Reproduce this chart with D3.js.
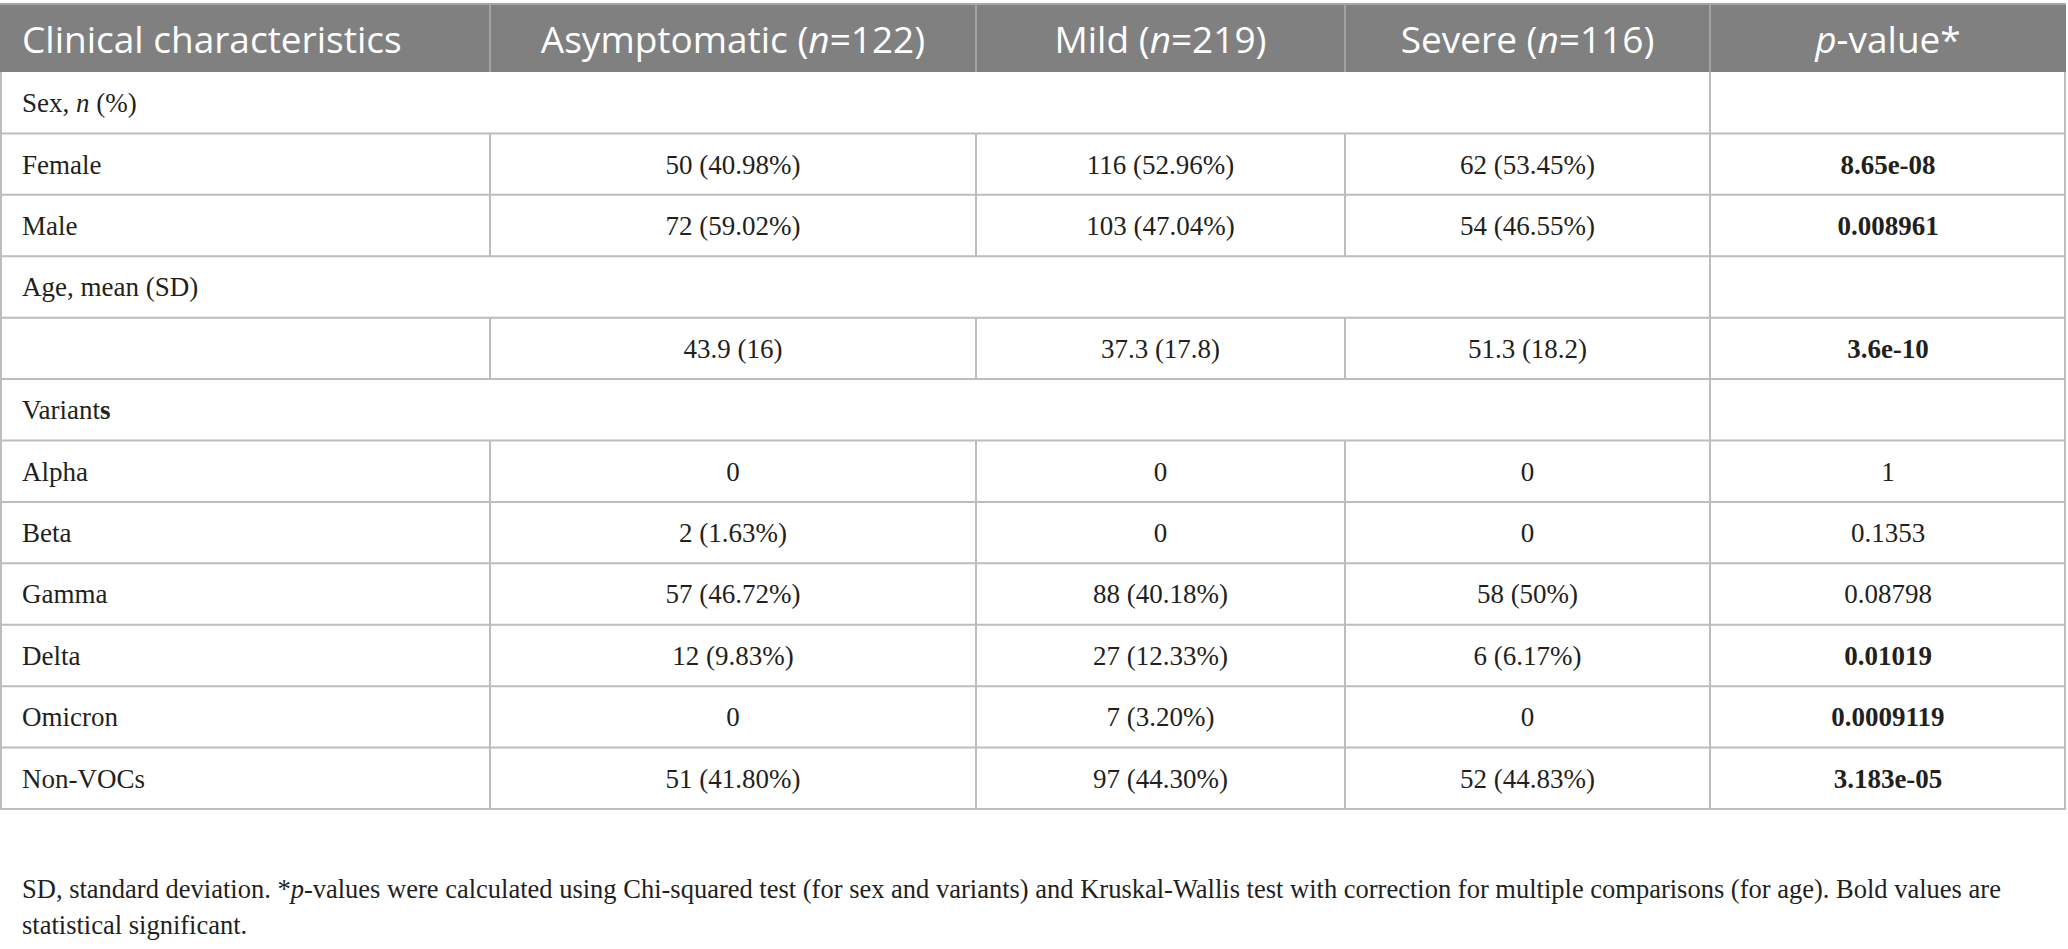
<!DOCTYPE html>
<html>
<head>
<meta charset="utf-8">
<script src="https://cdn.jsdelivr.net/npm/d3@7"></script>
<style>
  body { margin: 0; background: #fff; }
  svg { display: block; }
</style>
</head>
<body>
<div id="table"></div>
<script>
// Table content
const groups = ["Asymptomatic", "Mild", "Severe"];
const groupN = [122, 219, 116];
const rowLabels = ["Sex", "Female", "Male", "Age, mean (SD)", "", "Variants",
  "Alpha", "Beta", "Gamma", "Delta", "Omicron", "Non-VOCs"];
const sectionRows = [true, false, false, true, false, true,
  false, false, false, false, false, false];
const asymptomatic = [null, "50 (40.98%)", "72 (59.02%)", null, "43.9 (16)", null,
  "0", "2 (1.63%)", "57 (46.72%)", "12 (9.83%)", "0", "51 (41.80%)"];
const mild = [null, "116 (52.96%)", "103 (47.04%)", null, "37.3 (17.8)", null,
  "0", "0", "88 (40.18%)", "27 (12.33%)", "7 (3.20%)", "97 (44.30%)"];
const severe = [null, "62 (53.45%)", "54 (46.55%)", null, "51.3 (18.2)", null,
  "0", "0", "58 (50%)", "6 (6.17%)", "0", "52 (44.83%)"];
const pValues = [null, "8.65e-08", "0.008961", null, "3.6e-10", null,
  "1", "0.1353", "0.08798", "0.01019", "0.0009119", "3.183e-05"];
const significant = [false, true, true, false, true, false,
  false, false, false, true, true, true];

// Layout
const width = 2068, height = 949;
const colEdges = [0, 490, 976, 1345, 1710, 2066];
const headTop = 4, headBottom = 72, tableBottom = 809;
const lineColor = "#bdbdbd";
const serif = "'Liberation Serif', 'DejaVu Serif', serif";
const sans = "'Open Sans', 'Noto Sans', sans-serif";

const svg = d3.select("#table")
  .append("svg")
  .attr("width", width)
  .attr("height", height);

// Row positions via band scale
const y = d3.scaleBand()
  .domain(d3.range(rowLabels.length))
  .range([headBottom, tableBottom]);

const colCenter = i => (colEdges[i] + colEdges[i + 1]) / 2;

// Header background
svg.append("rect")
  .attr("x", colEdges[0])
  .attr("y", headTop)
  .attr("width", colEdges[5] - colEdges[0])
  .attr("height", headBottom - headTop)
  .attr("fill", "#808080");

svg.append("line")
  .attr("x1", colEdges[0]).attr("x2", colEdges[5])
  .attr("y1", headTop).attr("y2", headTop)
  .attr("stroke", "#a6a6a6").attr("stroke-width", 2);

// Header separators
colEdges.slice(1, 5).forEach(x => {
  svg.append("line")
    .attr("x1", x).attr("x2", x)
    .attr("y1", headTop).attr("y2", headBottom)
    .attr("stroke", "#a3a3a3").attr("stroke-width", 2);
});

// Header text
const headY = (headTop + headBottom) / 2 + 2;
const head = svg.append("g")
  .style("font-family", sans)
  .style("font-size", "37px")
  .attr("fill", "#fff");

head.append("text")
  .attr("x", 22)
  .attr("y", headY)
  .attr("dy", "0.36em")
  .text("Clinical characteristics");

groups.forEach((g, i) => {
  const t = head.append("text")
    .attr("x", colCenter(i + 1))
    .attr("y", headY)
    .attr("dy", "0.36em")
    .attr("text-anchor", "middle");
  t.append("tspan").text(g + " (");
  t.append("tspan").style("font-style", "italic").text("n");
  t.append("tspan").text("=" + groupN[i] + ")");
});

const pHead = head.append("text")
  .attr("x", colCenter(4))
  .attr("y", headY)
  .attr("dy", "0.36em")
  .attr("text-anchor", "middle");
pHead.append("tspan").style("font-style", "italic").text("p");
pHead.append("tspan").text("-value*");

// Body grid lines
rowLabels.forEach((label, i) => {
  const y1 = y(i), y2 = y(i) + y.bandwidth();
  svg.append("line")
    .attr("x1", colEdges[0]).attr("x2", colEdges[5])
    .attr("y1", y2).attr("y2", y2)
    .attr("stroke", lineColor).attr("stroke-width", 2);
  const edges = sectionRows[i] ? [colEdges[4]] : colEdges.slice(1, 5);
  edges.forEach(x => {
    svg.append("line")
      .attr("x1", x).attr("x2", x)
      .attr("y1", y1).attr("y2", y2)
      .attr("stroke", lineColor).attr("stroke-width", 2);
  });
});

// Outer left / right borders
[1, colEdges[5] - 1].forEach(x => {
  svg.append("line")
    .attr("x1", x).attr("x2", x)
    .attr("y1", headBottom).attr("y2", tableBottom)
    .attr("stroke", lineColor).attr("stroke-width", 2);
});

// Body text
const body = svg.append("g")
  .style("font-family", serif)
  .style("font-size", "27px")
  .attr("fill", "#231f20");

rowLabels.forEach((label, i) => {
  const cy = y(i) + y.bandwidth() / 2;
  const t = body.append("text")
    .attr("x", 22)
    .attr("y", cy)
    .attr("dy", "0.35em");
  if (label === "Sex") {
    t.append("tspan").text("Sex, ");
    t.append("tspan").style("font-style", "italic").text("n");
    t.append("tspan").text(" (%)");
  } else if (label === "Variants") {
    t.append("tspan").text("Variant");
    t.append("tspan").style("font-weight", "bold").text("s");
  } else {
    t.text(label);
  }

  [asymptomatic, mild, severe].forEach((col, j) => {
    if (col[i] === null) return;
    body.append("text")
      .attr("x", colCenter(j + 1))
      .attr("y", cy)
      .attr("dy", "0.35em")
      .attr("text-anchor", "middle")
      .text(col[i]);
  });

  if (pValues[i] !== null) {
    body.append("text")
      .attr("x", colCenter(4))
      .attr("y", cy)
      .attr("dy", "0.35em")
      .attr("text-anchor", "middle")
      .style("font-weight", significant[i] ? "bold" : "normal")
      .text(pValues[i]);
  }
});

// Footnote
const note = svg.append("g")
  .style("font-family", serif)
  .style("font-size", "26.5px")
  .attr("fill", "#231f20");

const n1 = note.append("text").attr("x", 22).attr("y", 898);
n1.append("tspan").text("SD, standard deviation. *");
n1.append("tspan").style("font-style", "italic").text("p");
n1.append("tspan").text("-values were calculated using Chi-squared test (for sex and variants) and Kruskal-Wallis test with correction for multiple comparisons (for age). Bold values are");

note.append("text").attr("x", 22).attr("y", 934)
  .text("statistical significant.");
</script>
</body>
</html>
